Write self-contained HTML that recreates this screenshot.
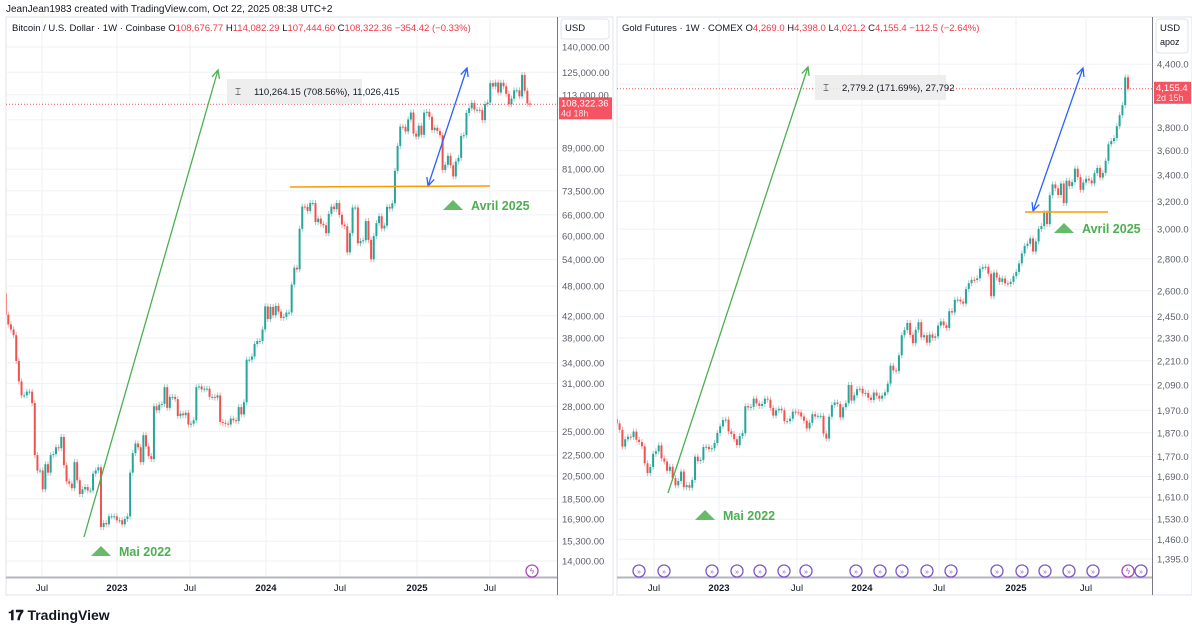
<!DOCTYPE html>
<html><head><meta charset="utf-8">
<style>
body{margin:0;background:#fff;font-family:"Liberation Sans",sans-serif;}
#wrap{position:relative;width:1192px;height:625px;overflow:hidden;background:#fff}
.hdr{position:absolute;left:6px;top:4px;font-size:10px;color:#131722}
svg text{font-family:"Liberation Sans",sans-serif}
</style></head><body>
<div id="wrap">
<div class="hdr">JeanJean1983 created with TradingView.com, Oct 22, 2025 08:38 UTC+2</div>
<svg id="svg" width="1192" height="625" style="position:absolute;left:0;top:0"></svg>
</div>
<script>
// ---------- data ----------
const btcTicks=[140000,125000,113000,101000,89000,81000,73500,66000,60000,54000,48000,42000,38000,34000,31000,28000,25000,22500,20500,18500,16900,15300,14000];
const btcTickLabels=["140,000.00","125,000.00","113,000.00","","89,000.00","81,000.00","73,500.00","66,000.00","60,000.00","54,000.00","48,000.00","42,000.00","38,000.00","34,000.00","31,000.00","28,000.00","25,000.00","22,500.00","20,500.00","18,500.00","16,900.00","15,300.00","14,000.00"];
const btcTimeLabels=["Jul","2023","Jul","2024","Jul","2025","Jul"];
const btcTimeX=[42,117,190,266,340,417,490];
const btcCloses=[46.4,42.2,40.4,39.5,38.5,34.3,31.3,29.4,29.4,29.9,29.9,28.4,22.5,21.0,21.0,19.3,21.6,20.8,22.5,22.6,23.3,23.2,24.4,21.5,20.0,19.8,19.4,21.8,20.1,18.9,19.3,19.5,19.2,19.2,20.7,21.0,21.3,16.3,16.6,16.5,17.1,17.1,17.1,16.8,16.8,16.5,
16.9,17.1,20.8,22.7,23.7,23.3,21.8,24.6,23.4,22.4,22.1,28.0,27.5,28.2,28.3,30.5,27.8,29.2,29.2,28.9,26.8,27.1,26.9,27.2,25.8,25.9,26.3,30.5,30.6,30.2,30.3,30.3,29.2,29.2,29.1,29.4,26.1,26.0,25.9,25.8,26.5,26.3,26.2,27.9,27.0,28.5,34.5,34.5,35.0,37.0,37.5,37.5,39.5,43.8,41.4,43.7,42.1,
43.9,42.8,41.6,41.8,42.6,42.6,48.3,52.1,51.7,62.0,68.5,68.4,67.2,69.6,69.6,63.9,64.9,63.4,63.0,60.8,66.3,68.5,67.7,69.6,66.0,63.2,62.7,55.8,60.8,68.2,68.2,58.1,58.7,58.9,64.2,59.0,54.1,60.0,63.6,65.6,62.1,62.9,68.4,67.9,69.5,80.4,89.9,98.0,97.9,95.9,101.2,104.4,95.0,93.7,98.4,
94.5,104.3,104.7,102.4,96.5,97.5,96.1,94.3,80.7,82.6,86.0,82.4,78.4,83.8,85.2,94.0,94.3,104.2,106.4,109.0,105.7,105.7,105.5,100.9,108.4,109.2,119.1,117.3,119.4,114.2,119.3,117.4,113.5,108.3,111.1,115.3,115.3,112.2,123.5,115.1,108.7,108.3];
const goldTicks=[4400,4200,4000,3800,3600,3400,3200,3000,2800,2600,2450,2330,2210,2090,1970,1870,1770,1690,1610,1530,1460,1395];
const goldTickLabels=["4,400.0","","","3,800.0","3,600.0","3,400.0","3,200.0","3,000.0","2,800.0","2,600.0","2,450.0","2,330.0","2,210.0","2,090.0","1,970.0","1,870.0","1,770.0","1,690.0","1,610.0","1,530.0","1,460.0","1,395.0"];
const goldTimeLabels=["Jul","2023","Jul","2024","Jul","2025","Jul"];
const goldTimeX=[654,719,797,862,939,1016,1086];
const goldCloses=[1930,1911,1883,1811,1842,1853,1851,1875,1840,1830,1812,1742,1703,1727,1781,1791,1816,1762,1749,1712,1728,1683,1655,1672,1709,1648,1656,1646,1676,1769,1751,1755,1809,1810,1800,1804,1826,
1869,1898,1926,1928,1876,1865,1842,1817,1856,1868,1989,1983,1986,2024,2002,1990,1999,2024,2019,1981,1946,1970,1977,1970,1921,1921,1932,1964,1961,1960,1942,1923,1889,1914,1952,1942,1945,1945,1866,1845,1941,1994,2006,1999,1938,1984,2003,2089,2015,2040,2069,2071,
2049,2051,2029,2018,2053,2038,2024,2038,2054,2096,2185,2161,2158,2238,2345,2374,2413,2347,2302,2375,2417,2334,2345,2305,2349,2331,2339,2398,2421,2400,2385,2480,2472,2546,2547,2536,2524,2610,2646,2667,2666,2676,2736,2746,2749,2705,2567,2712,2681,2654,2675,2645,2641,2654,
2690,2716,2771,2835,2886,2900,2936,2848,2915,3001,3021,3114,3035,3245,3328,3298,3247,3335,3187,3357,3315,3346,3452,3385,3287,3343,3372,3359,3336,3416,3458,3382,3418,3516,3653,3680,3705,3809,3908,4000,4267,4155];
const goldEventX=[639,664,712,737,760,784,806,856,880,902,927,951,997,1022,1045,1069,1093,1141];

// ---------- helpers ----------
const NS="http://www.w3.org/2000/svg";
const svg=document.getElementById('svg');
function mk(tag,attrs,parent){const e=document.createElementNS(NS,tag);for(const k in attrs)e.setAttribute(k,attrs[k]);(parent||svg).appendChild(e);return e;}
const yB=v=>561-514*Math.log10(v/14000);
const yG=v=>559-992*Math.log10(v/1395);
const UP="#26a69a",DN="#ef5350";

function panel(o){
  const g=mk('g',{});
  
  
  const fr=mk('rect',{x:o.x0,y:17,width:o.x1-o.x0+o.axW,height:578,fill:'#fff',stroke:'#e0e3eb','stroke-width':1},g);
  
  const cg=mk('g',{},g);
  const clipId=o.name+'-clip';
  const cp=mk('clipPath',{id:clipId},g);mk('rect',{x:o.x0,y:17,width:o.x1-o.x0,height:560},cp);
  cg.setAttribute('clip-path','url(#'+clipId+')');
  o.ticks.forEach((t,i)=>{const y=o.y(t);
    const l=mk('line',{x1:o.x0,x2:o.x1,y1:y,y2:y,stroke:'#eef1f6','stroke-width':1},cg);
    
    if(o.labels[i]){const tx=mk('text',{x:o.x1+5,y:y+3.5,'font-size':9.5,fill:'#5d606b'},g);tx.textContent=o.labels[i];
      }
  });
  o.timeX.forEach((x,i)=>{
    const l=mk('line',{x1:x,x2:x,y1:17,y2:577,stroke:'#eef1f6','stroke-width':1},cg);
    
    const t=mk('text',{x:x,y:591,'font-size':9.5,fill:'#131722','text-anchor':'middle','font-weight':o.timeL[i]==='Jul'?'normal':'bold'},g);
    t.textContent=o.timeL[i];
    
  });
  const n=o.closes.length;
  const dx=(o.lastX-o.firstX)/(n-1);
  for(let i=1;i<n;i++){
    const x=o.firstX+i*dx;
    const op=o.closes[i-1],cl=o.closes[i];
    const c=cl>=op?UP:DN;
    const yt=o.y(Math.max(op,cl)),yb=o.y(Math.min(op,cl));
    const w=mk('line',{x1:x,x2:x,y1:yt-3,y2:yb+3,stroke:c,'stroke-width':1,opacity:0.5},cg);
    
    const r=mk('rect',{x:x-1,y:yt,width:2,height:Math.max(1,yb-yt),fill:c},cg);
    
  }
  const lp=o.closes[n-1],ly=o.y(lp);
  const pl=mk('line',{x1:o.x0,x2:o.x1,y1:ly,y2:ly,stroke:DN,'stroke-width':1,'stroke-dasharray':'1,2'},g);
  
  const sep=mk('line',{x1:o.x1+0.5,x2:o.x1+0.5,y1:17,y2:595,stroke:'#787b86','stroke-width':1},g);
  
  const ta=mk('line',{x1:o.x0,x2:o.x1,y1:577.5,y2:577.5,stroke:'#b2b5be','stroke-width':2},g);
  
  const b=mk('rect',{x:o.x1+2,y:ly-7,width:o.axW-3,height:22,fill:'#f23645',opacity:0.85},g);
  
  const bt=mk('text',{x:o.x1+4,y:ly+2,'font-size':9.5,fill:'#fff'},g);bt.textContent=o.badge[0];
  
  const bt2=mk('text',{x:o.x1+4,y:ly+12,'font-size':9,fill:'#fde0e0'},g);bt2.textContent=o.badge[1];
  
  const cb=mk('rect',{x:o.x1+4,y:19,width:o.axW-8,height:o.curH,rx:3,fill:'#fff',stroke:'#e0e3eb'},g);
  
  const ct=mk('text',{x:o.x1+8,y:31,'font-size':9.5,fill:'#131722'},g);ct.textContent='USD';
  
  return cg;
}

panel({name:'btc-panel',x0:6,x1:557,axW:56,ticks:btcTicks,labels:btcTickLabels,y:yB,timeX:btcTimeX,timeL:btcTimeLabels,closes:btcCloses.map(v=>v*1000),firstX:3,lastX:530,badge:['108,322.36','4d 18h'],curH:20});
panel({name:'gold-panel',x0:617,x1:1152,axW:40,ticks:goldTicks,labels:goldTickLabels,y:yG,timeX:goldTimeX,timeL:goldTimeLabels,closes:goldCloses,firstX:614,lastX:1128,badge:['4,155.4','2d 15h'],curH:34});

let t=mk('text',{x:1160,y:45,'font-size':9,fill:'#131722'});t.textContent='apoz';


function legend(x,y,parts){const tx=mk('text',{x:x,y:y,'font-size':9.5,fill:'#131722'});
  parts.forEach(p=>{const s=mk('tspan',{fill:p[1]},tx);s.textContent=p[0];});return tx;}
let lg=legend(12,31,[['Bitcoin / U.S. Dollar · 1W · Coinbase  O','#131722'],['108,676.77','#f23645'],['  H','#131722'],['114,082.29','#f23645'],['  L','#131722'],['107,444.60','#f23645'],['  C','#131722'],['108,322.36','#f23645'],['  −354.42 (−0.33%)','#f23645']]);

lg=legend(622,31,[['Gold Futures · 1W · COMEX  O','#131722'],['4,269.0','#f23645'],['  H','#131722'],['4,398.0','#f23645'],['  L','#131722'],['4,021.2','#f23645'],['  C','#131722'],['4,155.4','#f23645'],['  −112.5 (−2.64%)','#f23645']]);


function arrow(x1,y1,x2,y2,c,dbl,name){
  const g=mk('g',{});
  
  mk('line',{x1,y1,x2,y2,stroke:c,'stroke-width':1.3},g);
  const head=(ax,ay,bx,by)=>{const a=Math.atan2(ay-by,ax-bx);const L=9;
    mk('polyline',{points:`${ax+L*Math.cos(a+2.7)},${ay+L*Math.sin(a+2.7)} ${ax},${ay} ${ax+L*Math.cos(a-2.7)},${ay+L*Math.sin(a-2.7)}`,fill:'none',stroke:c,'stroke-width':1.3},g);};
  head(x2,y2,x1,y1);if(dbl)head(x1,y1,x2,y2);
}
arrow(84,537,218,70,'#4caf50',false,'green-trend-arrow');
arrow(668,493,808,67,'#4caf50',false,'green-trend-arrow');
arrow(428,186,467,68,'#2962ff',true,'blue-move-arrow');
arrow(1033,211,1083,68,'#2962ff',true,'blue-move-arrow');
let ln=mk('line',{x1:290,y1:187,x2:490,y2:186,stroke:'#ff9800','stroke-width':1.5});

ln=mk('line',{x1:1025,y1:212,x2:1108,y2:212,stroke:'#ff9800','stroke-width':1.5});


function measure(x,y,w,txt){const g=mk('g',{});
  
  mk('rect',{x,y,width:w,height:25,fill:'#ebebeb',opacity:0.85},g);
  mk('text',{x:x+8,y:y+16,'font-size':10,fill:'#131722'},g).textContent='⌶';
  mk('text',{x:x+27,y:y+16,'font-size':9.5,fill:'#131722'},g).textContent=txt;}
measure(227,79,135,'110,264.15 (708.56%), 11,026,415');
measure(815,75,131,'2,779.2 (171.69%), 27,792');

function note(tx,ty,txt){const g=mk('g',{});
  
  mk('polygon',{points:`${tx-10},${ty+5} ${tx},${ty-5} ${tx+10},${ty+5}`,fill:'#66bb6a'},g);
  mk('text',{x:tx+18,y:ty+5,'font-size':12.5,'font-weight':'bold',fill:'#4caf50'},g).textContent=txt;}
note(101,551,'Mai 2022');note(453,205,'Avril 2025');note(705,515,'Mai 2022');note(1064,228,'Avril 2025');

goldEventX.forEach(x=>{const c=mk('circle',{cx:x,cy:571,r:6,fill:'#fff',stroke:'#7e57c2','stroke-width':1.3});
  
  const tt=mk('text',{x:x,y:574,'font-size':7,fill:'#7e57c2','text-anchor':'middle'});tt.textContent='»';
  });
[[1128,571],[532,571]].forEach(p=>{const c=mk('circle',{cx:p[0],cy:p[1],r:6,fill:'#fff',stroke:'#ab47bc','stroke-width':1.3});
  
  const tt=mk('text',{x:p[0],y:p[1]+3,'font-size':8,fill:'#ab47bc','text-anchor':'middle'});tt.textContent='ϟ';
  });

const lg2=mk('text',{x:8,y:620,'font-size':14,'font-weight':'bold',fill:'#131722'});
lg2.textContent='𝟏𝟕 TradingView';

</script>
</body></html>
